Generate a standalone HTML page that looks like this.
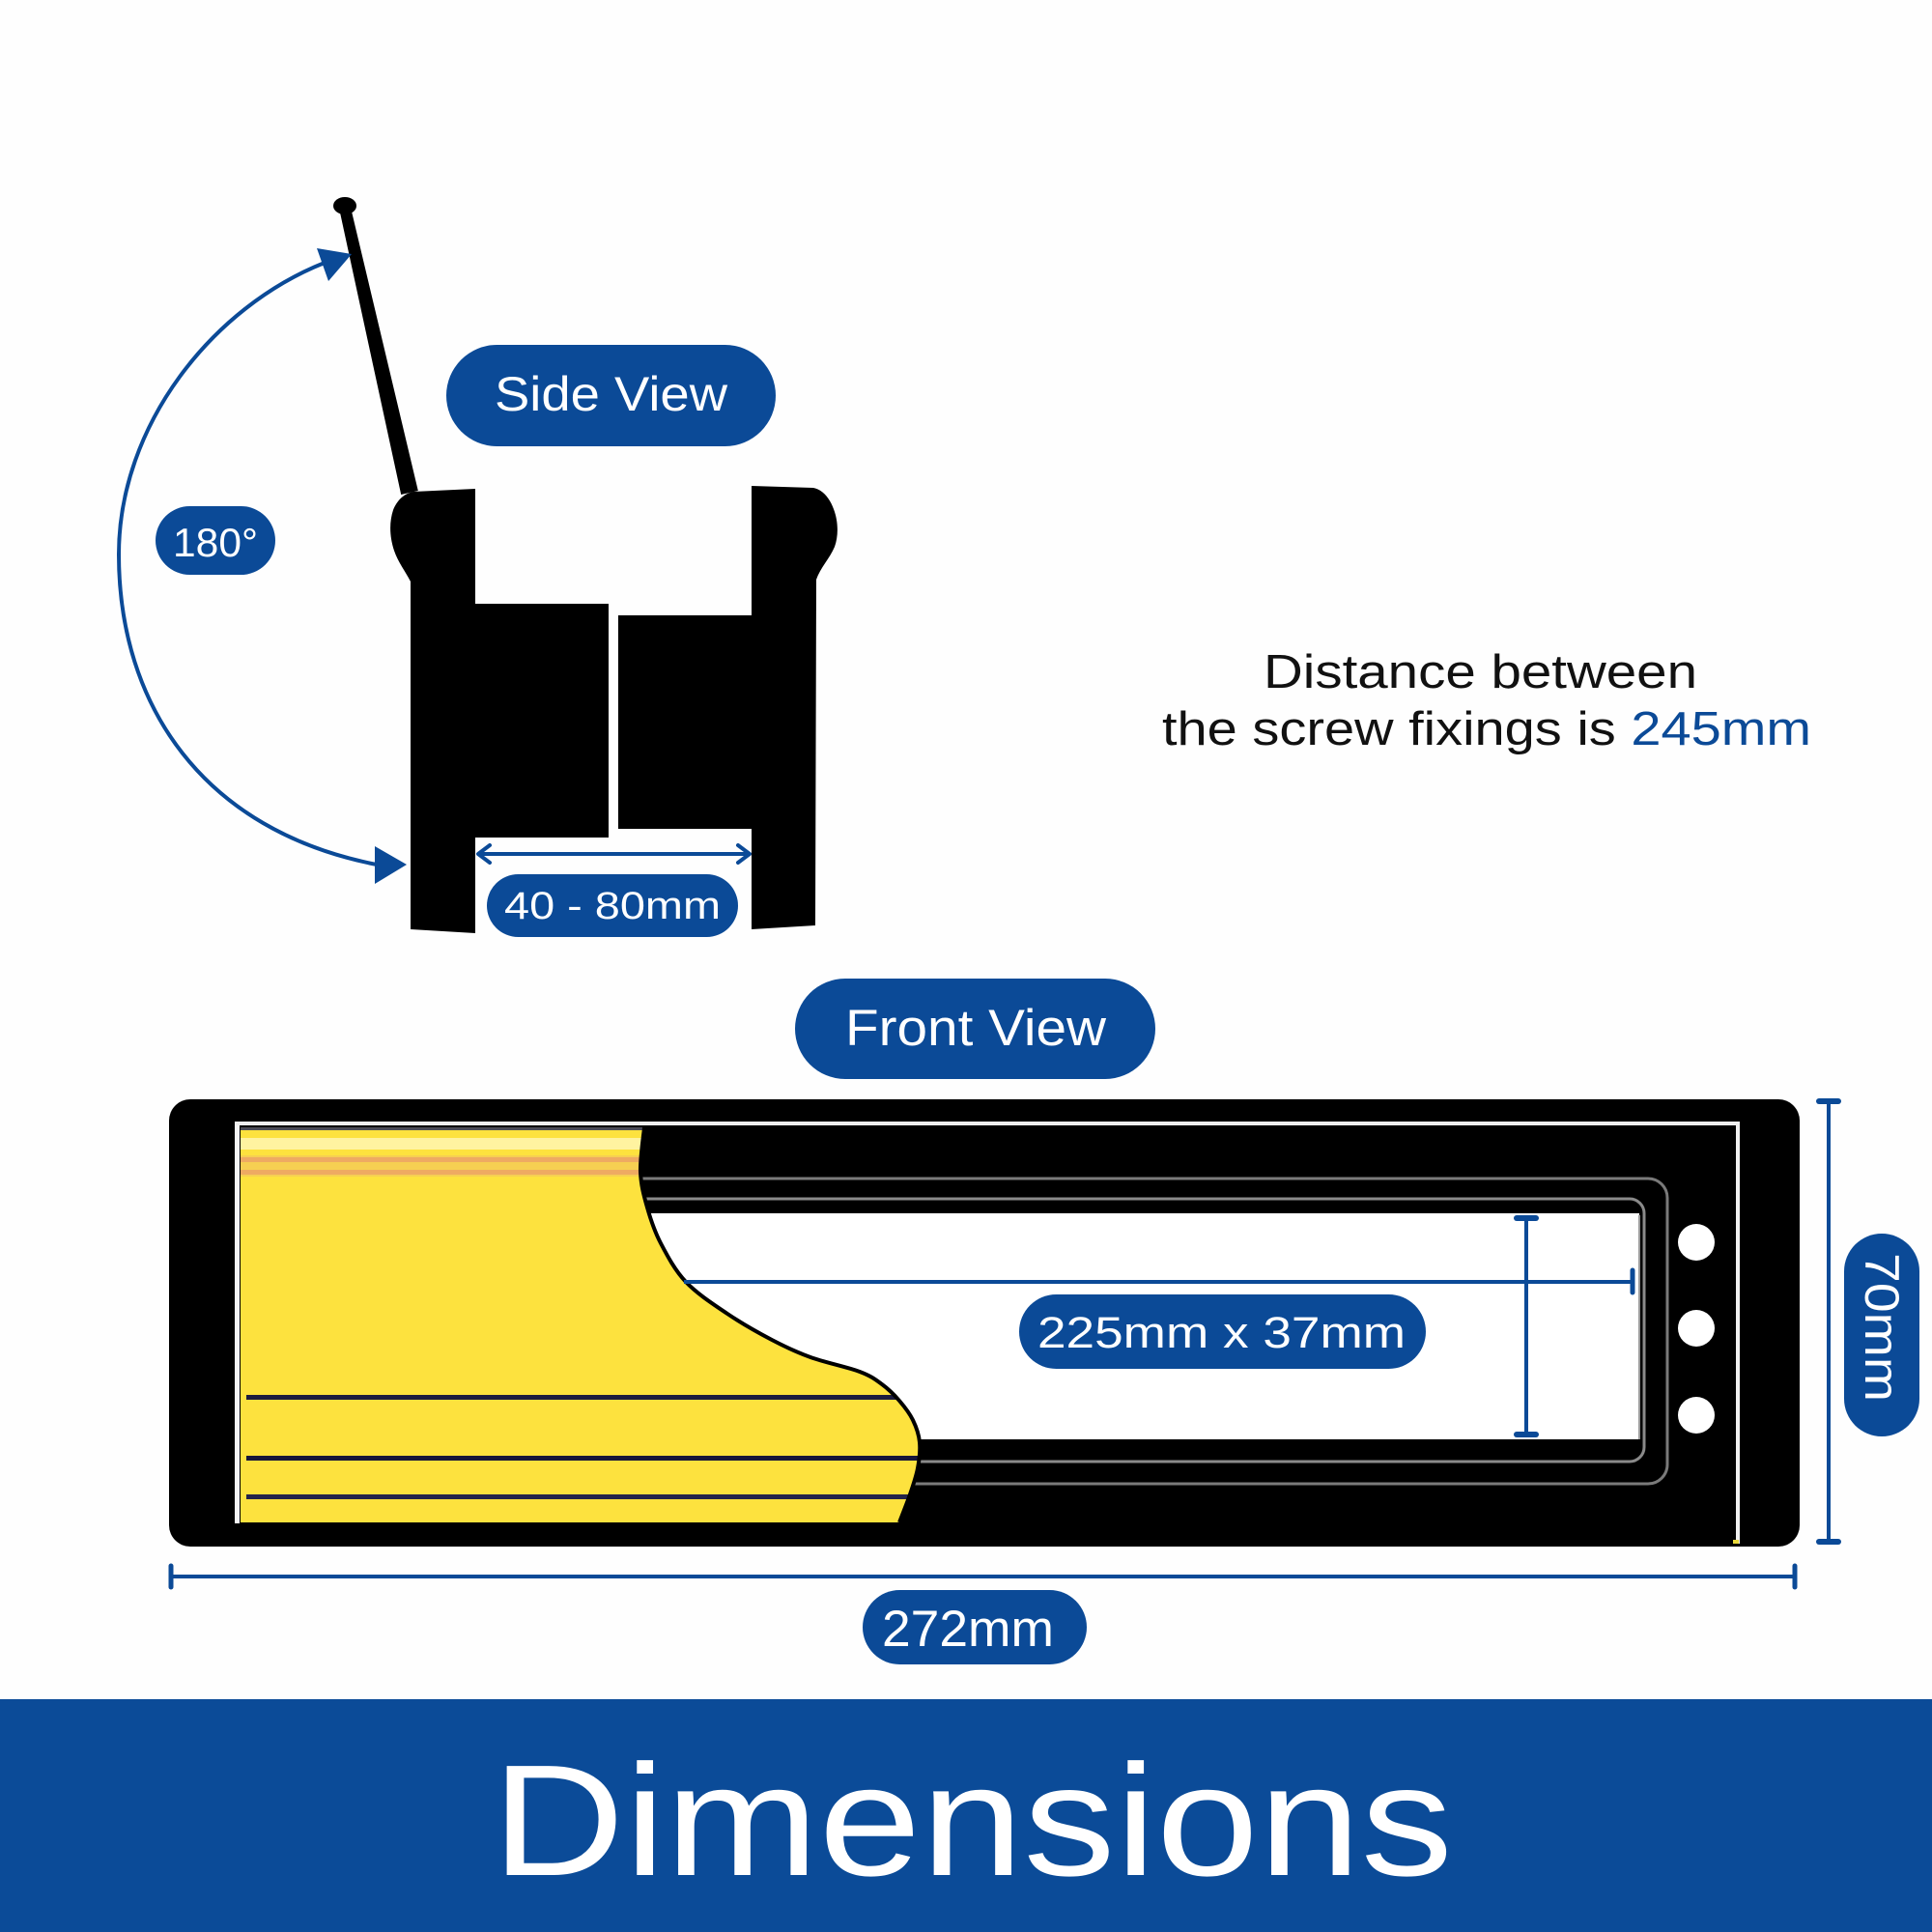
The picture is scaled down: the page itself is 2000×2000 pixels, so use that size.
<!DOCTYPE html>
<html>
<head>
<meta charset="utf-8">
<style>
  html, body { margin: 0; padding: 0; background: #fefefe; }
  svg { display: block; }
  text { font-family: "Liberation Sans", "DejaVu Sans", sans-serif; }
</style>
</head>
<body>
<svg width="2000" height="2000" viewBox="0 0 2000 2000" xmlns="http://www.w3.org/2000/svg">
  <defs>
    <clipPath id="yclip">
      <path d="M 249 1167 L 667 1167 C 666.3 1174.7, 662.5 1199.2, 663 1213 C 663.5 1226.8, 666.5 1237.7, 670 1250 C 673.5 1262.3, 677.3 1274.2, 684 1287 C 690.7 1299.8, 698.5 1314.8, 710 1327 C 721.5 1339.2, 738.2 1350, 753 1360 C 767.8 1370, 784.7 1379.5, 799 1387 C 813.3 1394.5, 823.8 1399.5, 839 1405 C 854.2 1410.5, 877.7 1415.3, 890 1420 C 902.3 1424.7, 906.2 1428, 913 1433 C 919.8 1438, 925.7 1443.8, 931 1450 C 936.3 1456.2, 941.5 1462.8, 945 1470 C 948.5 1477.2, 951.2 1484.7, 952 1493 C 952.8 1501.3, 951.7 1511, 950 1520 C 948.3 1529, 945.2 1537.7, 942 1547 C 938.8 1556.3, 932.8 1571.2, 931 1576 L 249 1576 Z"/>
    </clipPath>
  </defs>

  <rect x="0" y="0" width="2000" height="2000" fill="#fefefe"/>

  <!-- ===== SIDE VIEW ===== -->
  <!-- lever -->
  <polygon points="351.2,216.3 362.8,213.7 432.8,508 415.2,512" fill="#000"/>
  <ellipse cx="357" cy="213" rx="12" ry="9" fill="#000"/>

  <!-- left piece -->
  <path d="M 428 509 L 492 506 L 492 625 L 630 625 L 630 867 L 492 867 L 492 966 L 425 962 L 425 602 C 420 592, 412 582, 408 570 C 403 555, 403 540, 407 528 C 411 518, 418 511, 428 509 Z" fill="#000"/>
  <!-- right piece -->
  <path d="M 778 503 L 842 505 C 852 507, 859 516, 863 527 C 868 540, 868 555, 864 566 C 859 578, 849 588, 845 600 L 844 958 L 778 962 L 778 858 L 640 858 L 640 637 L 778 637 Z" fill="#000"/>

  <!-- 180 arc -->
  <path d="M 336 272 C 220 318, 123 440, 123 574 C 123 730, 210 860, 390 895" fill="none" stroke="#0b4a97" stroke-width="4"/>
  <polygon points="364,263 328,257 340,291" fill="#0b4a97"/>
  <polygon points="421,895 388,876 388,915" fill="#0b4a97"/>

  <!-- 40-80 arrow -->
  <line x1="496" y1="884" x2="775" y2="884" stroke="#0b4a97" stroke-width="4"/>
  <polyline points="507,875 495,884 507,893" fill="none" stroke="#0b4a97" stroke-width="4" stroke-linecap="round" stroke-linejoin="round"/>
  <polyline points="764,875 776,884 764,893" fill="none" stroke="#0b4a97" stroke-width="4" stroke-linecap="round" stroke-linejoin="round"/>

  <!-- Side View pill -->
  <rect x="462" y="357" width="341" height="105" rx="52.5" fill="#0b4a97"/>
  <text x="632.5" y="425" font-size="50" fill="#fff" text-anchor="middle" textLength="241" lengthAdjust="spacingAndGlyphs">Side View</text>

  <!-- 180 pill -->
  <rect x="161" y="524" width="124" height="71" rx="35.5" fill="#0b4a97"/>
  <text x="223" y="576" font-size="42" fill="#fff" text-anchor="middle" textLength="88" lengthAdjust="spacingAndGlyphs">180°</text>

  <!-- 40-80 pill -->
  <rect x="504" y="905" width="260" height="65" rx="32.5" fill="#0b4a97"/>
  <text x="634" y="951" font-size="40" fill="#fff" text-anchor="middle" textLength="224" lengthAdjust="spacingAndGlyphs">40 - 80mm</text>

  <!-- Distance text -->
  <text x="1532.5" y="712" font-size="49" fill="#111" text-anchor="middle" textLength="449" lengthAdjust="spacingAndGlyphs">Distance between</text>
  <text x="1203" y="771" font-size="49" fill="#111" textLength="672" lengthAdjust="spacingAndGlyphs">the screw fixings is <tspan fill="#0b4a97">245mm</tspan></text>

  <!-- Front View pill -->
  <rect x="823" y="1013" width="373" height="104" rx="52" fill="#0b4a97"/>
  <text x="1010" y="1082" font-size="53" fill="#fff" text-anchor="middle" textLength="270" lengthAdjust="spacingAndGlyphs">Front View</text>

  <!-- ===== FRONT VIEW PLATE ===== -->
  <rect x="175" y="1138" width="1688" height="463" rx="22" fill="#000"/>

  <!-- white slot -->
  <rect x="600" y="1256" width="1097" height="234" fill="#fff"/>
  <!-- gray frame outlines -->
  <rect x="600" y="1241" width="1102" height="272" rx="15" fill="none" stroke="#8a8a8a" stroke-width="3"/>
  <rect x="600" y="1220" width="1126" height="316" rx="20" fill="none" stroke="#7a7a7a" stroke-width="3"/>
  <!-- restore white slot over inner outline -->
  <rect x="600" y="1256" width="1096" height="234" fill="#fff"/>
  <line x1="1697" y1="1258" x2="1697" y2="1490" stroke="#9a9a9a" stroke-width="2"/>

  <!-- yellow flap -->
  <g clip-path="url(#yclip)">
    <rect x="240" y="1160" width="720" height="420" fill="#fde23e"/>
    <rect x="240" y="1166" width="720" height="4" fill="#4a4a55"/>
    <rect x="240" y="1178" width="720" height="12" fill="#fff3a0"/>
    <rect x="240" y="1196" width="720" height="22" fill="#f6cf52"/>
    <rect x="240" y="1198" width="720" height="5" fill="#eeaa62"/>
    <rect x="240" y="1211" width="720" height="5" fill="#eeaa62"/>
    <rect x="255" y="1444" width="720" height="5" fill="#1c1c3e"/>
    <rect x="255" y="1507" width="720" height="5" fill="#16163a"/>
    <rect x="255" y="1547" width="720" height="5" fill="#24244a"/>
  </g>
  <path d="M 667 1167 C 666.3 1174.7, 662.5 1199.2, 663 1213 C 663.5 1226.8, 666.5 1237.7, 670 1250 C 673.5 1262.3, 677.3 1274.2, 684 1287 C 690.7 1299.8, 698.5 1314.8, 710 1327 C 721.5 1339.2, 738.2 1350, 753 1360 C 767.8 1370, 784.7 1379.5, 799 1387 C 813.3 1394.5, 823.8 1399.5, 839 1405 C 854.2 1410.5, 877.7 1415.3, 890 1420 C 902.3 1424.7, 906.2 1428, 913 1433 C 919.8 1438, 925.7 1443.8, 931 1450 C 936.3 1456.2, 941.5 1462.8, 945 1470 C 948.5 1477.2, 951.2 1484.7, 952 1493 C 952.8 1501.3, 951.7 1511, 950 1520 C 948.3 1529, 945.2 1537.7, 942 1547 C 938.8 1556.3, 932.8 1571.2, 931 1576" fill="none" stroke="#000" stroke-width="4" stroke-linejoin="round"/>

  <!-- white inner border lines -->
  <rect x="243" y="1161" width="5" height="416" fill="#f4f4f4"/>
  <rect x="243" y="1161" width="1558" height="4" fill="#eeeeee"/>
  <rect x="1797" y="1161" width="4" height="437" fill="#f0f0f0"/>
  <rect x="1794" y="1594" width="6" height="4" fill="#e8d83a"/>

  <!-- screw holes -->
  <circle cx="1756" cy="1286" r="19" fill="#fff"/>
  <circle cx="1756" cy="1375" r="19" fill="#fff"/>
  <circle cx="1756" cy="1465" r="19" fill="#fff"/>

  <!-- 225 dimension -->
  <line x1="708" y1="1327" x2="1690" y2="1327" stroke="#0b4a97" stroke-width="4"/>
  <line x1="1690" y1="1315" x2="1690" y2="1338" stroke="#0b4a97" stroke-width="5" stroke-linecap="round"/>
  <!-- 37 dimension -->
  <line x1="1580" y1="1261" x2="1580" y2="1485" stroke="#0b4a97" stroke-width="4"/>
  <line x1="1570" y1="1261" x2="1590" y2="1261" stroke="#0b4a97" stroke-width="6" stroke-linecap="round"/>
  <line x1="1570" y1="1485" x2="1590" y2="1485" stroke="#0b4a97" stroke-width="6" stroke-linecap="round"/>

  <!-- 225 pill -->
  <rect x="1055" y="1340" width="421" height="77" rx="38.5" fill="#0b4a97"/>
  <text x="1264.5" y="1395" font-size="45" fill="#fff" text-anchor="middle" textLength="381" lengthAdjust="spacingAndGlyphs">225mm x 37mm</text>

  <!-- 272 dimension -->
  <line x1="177" y1="1632" x2="1858" y2="1632" stroke="#0b4a97" stroke-width="4"/>
  <line x1="177" y1="1621" x2="177" y2="1643" stroke="#0b4a97" stroke-width="5" stroke-linecap="round"/>
  <line x1="1858" y1="1621" x2="1858" y2="1643" stroke="#0b4a97" stroke-width="5" stroke-linecap="round"/>
  <rect x="893" y="1646" width="232" height="77" rx="38.5" fill="#0b4a97"/>
  <text x="1002" y="1704" font-size="53" fill="#fff" text-anchor="middle" textLength="178" lengthAdjust="spacingAndGlyphs">272mm</text>

  <!-- 70 dimension -->
  <line x1="1893" y1="1140" x2="1893" y2="1596" stroke="#0b4a97" stroke-width="4"/>
  <line x1="1883" y1="1140" x2="1903" y2="1140" stroke="#0b4a97" stroke-width="6" stroke-linecap="round"/>
  <line x1="1883" y1="1596" x2="1903" y2="1596" stroke="#0b4a97" stroke-width="6" stroke-linecap="round"/>
  <rect x="1909" y="1277" width="78" height="210" rx="39" fill="#0b4a97"/>
  <text transform="translate(1931,1374) rotate(90)" x="0" y="0" font-size="50" fill="#fff" text-anchor="middle" textLength="154" lengthAdjust="spacingAndGlyphs">70mm</text>

  <!-- ===== BANNER ===== -->
  <rect x="0" y="1759" width="2000" height="241" fill="#0b4b98"/>
  <text x="1006.5" y="1941" font-size="164" fill="#fff" text-anchor="middle" textLength="995" lengthAdjust="spacingAndGlyphs">Dimensions</text>
</svg>
</body>
</html>
